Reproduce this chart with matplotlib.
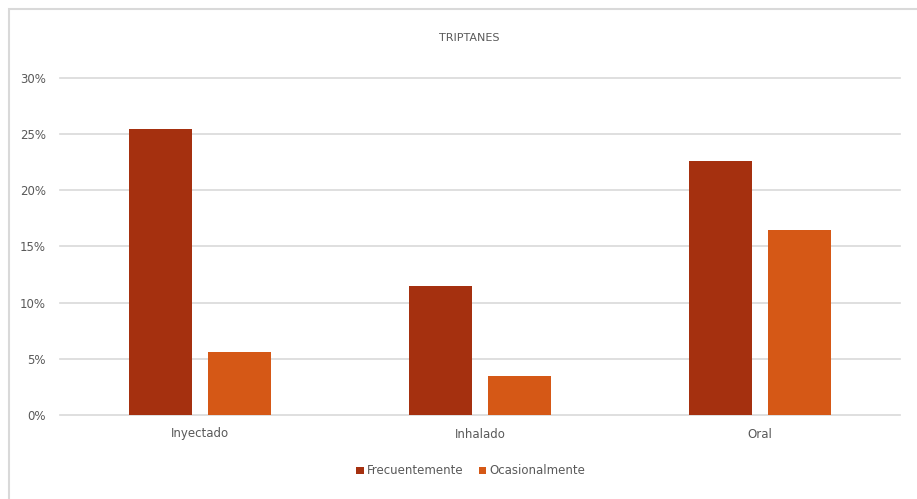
import matplotlib
matplotlib.use('Agg')

import matplotlib.pyplot as plt
from matplotlib.patches import Rectangle
from matplotlib.ticker import PercentFormatter
import numpy as np

W, H = 917, 499

categories = ["Inyectado", "Inhalado", "Oral"]
frecuentemente = [0.255, 0.115, 0.226]
ocasionalmente = [0.056, 0.035, 0.165]
series_names = ["Frecuentemente", "Ocasionalmente"]
y_ticks = [0, 0.05, 0.10, 0.15, 0.20, 0.25, 0.30]

COLORS = {"frec": "#A5300F", "ocas": "#D55816", "grid": "#d9d9d9", "text": "#595959"}

plt.rcParams["font.family"] = ["DejaVu Sans"]

fig = plt.figure(figsize=(W / 100, H / 100), dpi=100)
fig.patch.set_facecolor("white")

# outer chart border (runs off the right/bottom edge like the screenshot)
fig.add_artist(Rectangle((9 / W, -0.05), 1.1, 1 - 9 / H + 0.05, transform=fig.transFigure,
                         facecolor="none", edgecolor=COLORS["grid"], lw=1.5))

ax = fig.add_axes([60 / W, 84 / H, 840 / W, 337 / H])
x = np.arange(len(categories))
bw, gap = 0.225, 0.057
ax.bar(x - (bw + gap) / 2, frecuentemente, bw, color=COLORS["frec"], label=series_names[0], zorder=3)
ax.bar(x + (bw + gap) / 2, ocasionalmente, bw, color=COLORS["ocas"], label=series_names[1], zorder=3)

ax.set_xlim(-0.5, len(categories) - 0.5)
ax.set_ylim(0, 0.30)
ax.set_yticks(y_ticks)
ax.yaxis.set_major_formatter(PercentFormatter(1.0, decimals=0))
ax.set_xticks(x)
ax.set_xticklabels(categories)
ax.grid(axis="y", color=COLORS["grid"], lw=1.2, zorder=0)
for gl in ax.get_ygridlines():
    gl.set_clip_on(False)
for s in ax.spines.values():
    s.set_visible(False)
ax.tick_params(length=0, colors=COLORS["text"], labelsize=8.5)
ax.tick_params(axis="y", pad=10)
ax.tick_params(axis="x", pad=9)

fig.text(469 / W, 1 - 38 / H, "TRIPTANES", ha="center", va="center", fontsize=8, color=COLORS["text"])

fig.legend(loc="center", bbox_to_anchor=(471 / W, 1 - 471 / H), ncol=2, frameon=False,
           fontsize=8.5, labelcolor=COLORS["text"], handlelength=0.6, handleheight=0.6,
           handletextpad=0.3, columnspacing=1.3)

fig.savefig("out.png", dpi=100, facecolor="white")
